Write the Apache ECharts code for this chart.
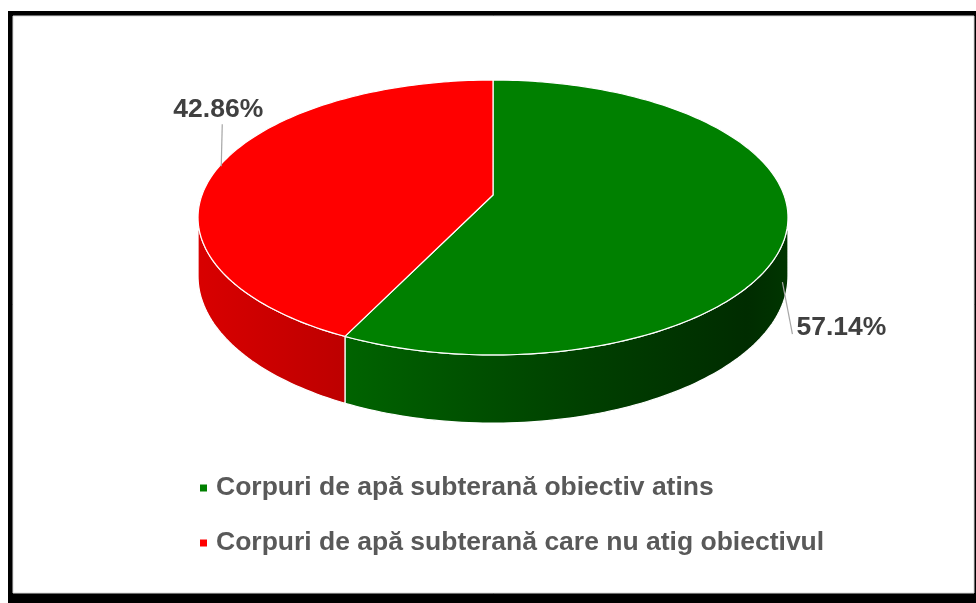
<!DOCTYPE html>
<html lang="ro">
<head>
<meta charset="UTF-8">
<title>Corpuri de apă subterană</title>
<script src="https://cdn.jsdelivr.net/npm/echarts@6/dist/echarts.min.js"></script>
<style>
  html, body { margin: 0; padding: 0; background: #fff; }
</style>
</head>
<body>
<div id="main" style="width: 976px;height: 603px"></div>
<script type="text/javascript">
  // data
  var categories = ['Corpuri de apă subterană obiectiv atins', 'Corpuri de apă subterană care nu atig obiectivul'];
  var values = [57.14, 42.86];
  var labels = ['57.14%', '42.86%'];
  var topColors = ['#008000', '#ff0000'];

  // geometry of the tilted disc (perspective)
  var cx = 493, A = 291, pa = 101.9, pb = 195, pc = -0.1636, depth = 57;
  var uLimit = -pc; // silhouette of side wall

  var total = values.reduce(function (s, v) { return s + v; }, 0);
  var starts = [];
  var acc = 0;
  for (var i = 0; i < values.length; i++) { starts.push(acc); acc += values[i]; }

  function proj(theta, drop) {
    var x = Math.sin(theta), u = -Math.cos(theta);
    var den = 1 + pc * u;
    return [cx + A * x / den, (pa * u + pb + (drop || 0)) / den];
  }

  function arcPts(a1, a2, drop) {
    var pts = [];
    var n = Math.max(2, Math.ceil(Math.abs(a2 - a1) / 0.02));
    for (var k = 0; k <= n; k++) pts.push(proj(a1 + (a2 - a1) * k / n, drop));
    return pts;
  }

  var wallFills = [
    { type: 'linear', x: 340, y: 0, x2: 792, y2: 0, global: true,
      colorStops: [{ offset: 0, color: '#006400' }, { offset: 0.55, color: '#003f00' }, { offset: 0.9, color: '#002c00' }, { offset: 1, color: '#003600' }] },
    { type: 'linear', x: 196, y: 0, x2: 346, y2: 0, global: true,
      colorStops: [{ offset: 0, color: '#d90000' }, { offset: 1, color: '#bd0000' }] }
  ];

  var labelFont = 'bold 26.5px "Liberation Sans", Arial, sans-serif';

  function makeRender(idx) {
    return function (params, api) {
      var v = api.value(0);
      var a1 = starts[idx] / total * Math.PI * 2;
      var a2 = a1 + v / total * Math.PI * 2;
      var children = [];

      // visible side wall: u >= uLimit  ->  cos(theta) <= -uLimit
      var lo = Math.acos(-uLimit), hi = Math.PI * 2 - lo;
      var w1 = Math.max(a1, lo), w2 = Math.min(a2, hi);
      if (w2 > w1) {
        var top = arcPts(w1, w2, 0);
        var bot = arcPts(w2, w1, depth);
        children.push({
          type: 'polygon',
          shape: { points: top.concat(bot) },
          style: { fill: wallFills[idx], stroke: '#ffffff', lineWidth: 1.2 }
        });
      }

      // top face
      var pts = [[cx, pb]].concat(arcPts(a1, a2, 0));
      children.push({
        type: 'polygon',
        shape: { points: pts },
        style: { fill: topColors[idx], stroke: '#ffffff', lineWidth: 1.2 }
      });

      // label with leader line
      var mid = (a1 + a2) / 2;
      var u = -Math.cos(mid);
      var p, q, txt;
      if (u > 0) {
        p = proj(mid, depth * 0.95);
        p[0] -= 5;
        q = [p[0] + 10, p[1] + 52];
        txt = { x: q[0] + 4, y: q[1] - 6, align: 'left' };
      } else {
        p = proj(mid, 0);
        p[0] += 2;
        q = [p[0] + 1, p[1] - 42];
        txt = { x: q[0] - 4, y: q[1] - 15, align: 'center' };
      }
      children.push({
        type: 'line',
        shape: { x1: p[0], y1: p[1], x2: q[0], y2: q[1] },
        style: { stroke: '#a6a6a6', lineWidth: 1.2 }
      });
      children.push({
        type: 'text',
        x: txt.x, y: txt.y,
        style: {
          text: labels[idx], fill: '#404040',
          font: labelFont,
          align: txt.align, verticalAlign: 'middle'
        }
      });
      return { type: 'group', children: children };
    };
  }

  var series = [];
  for (var j = 0; j < categories.length; j++) {
    series.push({
      name: categories[j],
      type: 'custom',
      coordinateSystem: 'none',
      color: topColors[j],
      renderItem: makeRender(j),
      data: [[values[j]]],
      silent: true
    });
  }

  var myChart = echarts.init(document.getElementById('main'));
  myChart.setOption({
    animation: false,
    backgroundColor: '#ffffff',
    graphic: [
      { type: 'rect', shape: { x: 8, y: 11, width: 968, height: 592 }, style: { fill: '#000000' }, z: -10 },
      { type: 'rect', shape: { x: 13, y: 16, width: 961, height: 577 }, style: { fill: '#ffffff', stroke: '#d9d9d9', lineWidth: 1 }, z: -9 }
    ],
    legend: {
      orient: 'vertical',
      left: 195,
      top: 469,
      icon: 'rect',
      itemWidth: 7,
      itemHeight: 7,
      itemGap: 27,
      selectedMode: false,
      data: categories,
      textStyle: {
        color: '#595959',
        fontSize: 26.5,
        fontWeight: 'bold',
        fontFamily: '"Liberation Sans", Arial, sans-serif',
        lineHeight: 28,
        padding: [0, 0, 0, 4]
      }
    },
    series: series
  });
</script>
</body>
</html>
